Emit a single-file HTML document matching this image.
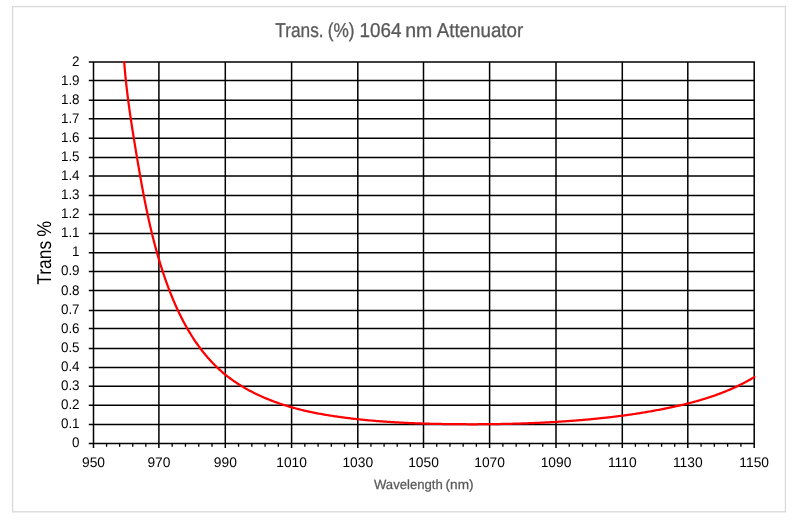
<!DOCTYPE html>
<html><head><meta charset="utf-8"><style>
html,body{margin:0;padding:0;background:#fff;}
body{width:796px;height:520px;overflow:hidden;}
svg{display:block;will-change:transform;}
text{font-family:"Liberation Sans",sans-serif;text-rendering:geometricPrecision;}
.yl{font-size:14px;text-anchor:end;fill:#000;}
.xl{font-size:13.8px;text-anchor:middle;fill:#000;}
.ti{font-size:20.0px;fill:#595959;stroke:#595959;stroke-width:0.3px;}
.xt{font-size:13.3px;fill:#595959;stroke:#595959;stroke-width:0.25px;}
.yt{font-size:20.0px;fill:#000;}
</style></head><body>
<svg width="796" height="520" viewBox="0 0 796 520">
<rect x="12.6" y="6.6" width="772.8" height="505.2" fill="none" stroke="#d9d9d9" stroke-width="1.3"/>
<path d="M88.8 62.00H754.85 M88.8 80.60H754.85 M88.8 100.15H754.85 M88.8 118.80H754.85 M88.8 138.15H754.85 M88.8 157.45H754.85 M88.8 176.00H754.85 M88.8 195.46H754.85 M88.8 214.54H754.85 M88.8 233.46H754.85 M88.8 252.80H754.85 M88.8 271.50H754.85 M88.8 290.60H754.85 M88.8 310.40H754.85 M88.8 328.60H754.85 M88.8 348.40H754.85 M88.8 367.50H754.85 M88.8 386.30H754.85 M88.8 405.30H754.85 M88.8 424.40H754.85 M88.8 443.40H754.85 M93.50 62.00V447.9 M158.90 62.00V447.9 M225.30 62.00V447.9 M291.60 62.00V447.9 M357.80 62.00V447.9 M423.50 62.00V447.9 M489.60 62.00V447.9 M556.00 62.00V447.9 M622.30 62.00V447.9 M687.80 62.00V447.9 M754.20 62.00V447.9" stroke="#000" stroke-width="1.5" fill="none"/>
<path d="M106.58 443.4V446.8 M119.66 443.4V446.8 M132.74 443.4V446.8 M145.82 443.4V446.8 M172.18 443.4V446.8 M185.46 443.4V446.8 M198.74 443.4V446.8 M212.02 443.4V446.8 M238.56 443.4V446.8 M251.82 443.4V446.8 M265.08 443.4V446.8 M278.34 443.4V446.8 M304.84 443.4V446.8 M318.08 443.4V446.8 M331.32 443.4V446.8 M344.56 443.4V446.8 M370.94 443.4V446.8 M384.08 443.4V446.8 M397.22 443.4V446.8 M410.36 443.4V446.8 M436.72 443.4V446.8 M449.94 443.4V446.8 M463.16 443.4V446.8 M476.38 443.4V446.8 M502.88 443.4V446.8 M516.16 443.4V446.8 M529.44 443.4V446.8 M542.72 443.4V446.8 M569.26 443.4V446.8 M582.52 443.4V446.8 M595.78 443.4V446.8 M609.04 443.4V446.8 M635.40 443.4V446.8 M648.50 443.4V446.8 M661.60 443.4V446.8 M674.70 443.4V446.8 M701.08 443.4V446.8 M714.36 443.4V446.8 M727.64 443.4V446.8 M740.92 443.4V446.8" stroke="#000" stroke-width="1.3" fill="none"/>
<clipPath id="c"><rect x="0" y="61" width="796" height="459"/></clipPath>
<path d="M123.52 52.02 123.59 53.22 123.67 54.42 123.74 55.61 123.82 56.81 123.90 58.01 123.99 59.21 124.07 60.40 124.16 61.60 124.25 62.80 124.35 63.99 124.44 65.19 124.54 66.38 124.64 67.58 124.74 68.78 124.85 69.97 124.96 71.17 125.06 72.36 125.18 73.56 125.29 74.75 125.41 75.95 125.52 77.14 125.65 78.33 125.77 79.53 125.89 80.72 126.02 81.91 126.15 83.11 126.28 84.30 126.41 85.49 126.54 86.69 126.68 87.88 126.82 89.07 126.96 90.26 127.10 91.45 127.24 92.64 127.39 93.84 127.54 95.03 127.68 96.22 127.83 97.41 127.99 98.60 128.14 99.79 128.29 100.98 128.45 102.17 128.61 103.36 128.77 104.55 128.93 105.74 129.09 106.93 129.25 108.11 129.42 109.30 129.59 110.49 129.75 111.68 129.92 112.87 130.09 114.05 130.27 115.24 130.44 116.43 130.61 117.62 130.79 118.80 130.96 119.99 131.14 121.18 131.32 122.36 131.50 123.55 131.68 124.74 131.86 125.92 132.05 127.11 132.23 128.30 132.42 129.48 132.60 130.67 132.79 131.85 132.98 133.04 133.16 134.22 133.35 135.41 133.54 136.59 133.73 137.78 133.92 138.96 134.12 140.15 134.31 141.33 134.50 142.51 134.70 143.70 134.89 144.88 135.09 146.07 135.28 147.25 135.48 148.43 135.68 149.62 135.87 150.80 136.07 151.99 136.27 153.17 136.47 154.35 136.67 155.54 136.87 156.72 137.07 157.90 137.27 159.09 137.47 160.27 137.67 161.45 137.87 162.64 138.07 163.82 138.27 165.00 138.48 166.18 138.68 167.37 138.88 168.55 139.09 169.73 139.29 170.91 139.50 172.10 139.71 173.28 139.91 174.46 140.12 175.64 140.33 176.82 140.54 178.01 140.75 179.19 140.96 180.37 141.17 181.55 141.39 182.73 141.60 183.91 141.82 185.09 142.03 186.27 142.25 187.45 142.47 188.63 142.69 189.81 142.91 190.99 143.13 192.17 143.35 193.35 143.58 194.53 143.80 195.71 144.03 196.88 144.26 198.06 144.49 199.24 144.72 200.42 144.95 201.60 145.19 202.77 145.42 203.95 145.66 205.13 145.90 206.30 146.14 207.48 146.38 208.65 146.62 209.83 146.87 211.00 147.12 212.18 147.36 213.35 147.62 214.52 147.87 215.70 148.12 216.87 148.38 218.04 148.64 219.21 148.90 220.39 149.16 221.56 149.42 222.73 149.69 223.90 149.96 225.07 150.23 226.24 150.50 227.41 150.77 228.57 151.05 229.74 151.33 230.91 151.61 232.08 151.89 233.24 152.18 234.41 152.46 235.57 152.75 236.74 153.05 237.90 153.34 239.06 153.64 240.23 153.94 241.39 154.24 242.55 154.54 243.71 154.85 244.87 155.16 246.03 155.47 247.19 155.79 248.35 156.10 249.50 156.42 250.66 156.75 251.82 157.07 252.97 157.40 254.13 157.73 255.28 158.06 256.43 158.40 257.58 158.74 258.74 159.08 259.89 159.42 261.03 159.77 262.18 160.12 263.33 160.48 264.48 160.83 265.62 161.19 266.77 161.55 267.91 161.92 269.06 162.29 270.20 162.66 271.34 163.03 272.48 163.41 273.62 163.79 274.76 164.18 275.89 164.56 277.03 164.95 278.16 165.35 279.30 165.75 280.43 166.15 281.56 166.55 282.69 166.96 283.82 167.37 284.95 167.78 286.07 168.20 287.20 168.62 288.32 169.05 289.44 169.48 290.56 169.91 291.68 170.35 292.80 170.79 293.91 171.24 295.03 171.69 296.14 172.14 297.25 172.60 298.36 173.06 299.47 173.53 300.58 174.00 301.68 174.47 302.78 174.95 303.88 175.43 304.98 175.92 306.08 176.42 307.17 176.91 308.26 177.42 309.35 177.92 310.44 178.43 311.52 178.95 312.61 179.47 313.69 180.00 314.77 180.53 315.84 181.07 316.92 181.61 317.99 182.15 319.06 182.70 320.12 183.26 321.18 183.82 322.24 184.39 323.30 184.97 324.36 185.54 325.41 186.13 326.46 186.72 327.50 187.31 328.54 187.91 329.58 188.52 330.62 189.13 331.65 189.75 332.68 190.38 333.70 191.01 334.72 191.64 335.74 192.28 336.75 192.93 337.76 193.59 338.77 194.25 339.77 194.92 340.77 195.59 341.76 196.27 342.75 196.96 343.74 197.65 344.72 198.35 345.69 199.05 346.66 199.76 347.63 200.48 348.59 201.21 349.54 201.94 350.49 202.68 351.44 203.43 352.38 204.18 353.32 204.94 354.24 205.70 355.17 206.48 356.09 207.26 357.00 208.04 357.90 208.84 358.80 209.64 359.70 210.45 360.58 211.26 361.47 212.08 362.34 212.91 363.21 213.75 364.07 214.59 364.92 215.44 365.77 216.30 366.61 217.16 367.44 218.03 368.27 218.91 369.09 219.80 369.90 220.69 370.70 221.59 371.49 222.49 372.28 223.41 373.06 224.33 373.83 225.25 374.59 226.19 375.34 227.13 376.09 228.08 376.83 229.03 377.55 229.99 378.27 230.95 378.99 231.93 379.69 232.90 380.39 233.89 381.07 234.88 381.75 235.87 382.42 236.87 383.09 237.88 383.74 238.89 384.39 239.90 385.03 240.92 385.66 241.95 386.29 242.98 386.90 244.01 387.51 245.05 388.12 246.09 388.71 247.14 389.30 248.19 389.87 249.24 390.45 250.30 391.01 251.37 391.57 252.43 392.12 253.50 392.66 254.58 393.20 255.65 393.73 256.73 394.25 257.82 394.76 258.90 395.27 260.00 395.77 261.09 396.27 262.18 396.75 263.28 397.23 264.39 397.71 265.49 398.18 266.60 398.64 267.71 399.09 268.82 399.54 269.94 399.98 271.06 400.42 272.18 400.85 273.30 401.27 274.42 401.69 275.55 402.10 276.68 402.51 277.81 402.91 278.95 403.30 280.08 403.69 281.22 404.07 282.36 404.45 283.50 404.82 284.64 405.19 285.79 405.54 286.93 405.90 288.08 406.25 289.23 406.59 290.38 406.93 291.54 407.26 292.69 407.58 293.85 407.91 295.01 408.22 296.17 408.53 297.33 408.84 298.49 409.14 299.65 409.43 300.81 409.72 301.98 410.01 303.15 410.29 304.31 410.57 305.48 410.84 306.65 411.10 307.82 411.37 309.00 411.62 310.17 411.88 311.34 412.13 312.52 412.37 313.69 412.61 314.87 412.85 316.05 413.08 317.23 413.31 318.40 413.53 319.58 413.75 320.76 413.97 321.95 414.18 323.13 414.39 324.31 414.60 325.49 414.80 326.68 415.00 327.86 415.19 329.04 415.39 330.23 415.57 331.41 415.76 332.60 415.94 333.79 416.12 334.97 416.30 336.16 416.47 337.35 416.65 338.54 416.81 339.73 416.98 340.91 417.14 342.10 417.30 343.29 417.46 344.48 417.62 345.67 417.77 346.86 417.93 348.05 418.07 349.24 418.22 350.44 418.37 351.63 418.51 352.82 418.65 354.01 418.79 355.20 418.92 356.40 419.06 357.59 419.19 358.78 419.32 359.98 419.45 361.17 419.57 362.36 419.69 363.56 419.81 364.75 419.93 365.94 420.05 367.14 420.17 368.33 420.28 369.53 420.39 370.72 420.50 371.92 420.60 373.11 420.71 374.31 420.81 375.51 420.91 376.70 421.01 377.90 421.11 379.09 421.20 380.29 421.30 381.49 421.39 382.68 421.48 383.88 421.57 385.08 421.65 386.27 421.74 387.47 421.82 388.67 421.90 389.87 421.98 391.06 422.06 392.26 422.13 393.46 422.21 394.66 422.28 395.85 422.35 397.05 422.42 398.25 422.49 399.45 422.55 400.65 422.62 401.85 422.68 403.04 422.74 404.24 422.80 405.44 422.86 406.64 422.92 407.84 422.97 409.04 423.02 410.24 423.08 411.43 423.13 412.63 423.18 413.83 423.23 415.03 423.27 416.23 423.32 417.43 423.36 418.63 423.41 419.83 423.45 421.03 423.49 422.23 423.53 423.43 423.56 424.63 423.60 425.83 423.64 427.03 423.67 428.22 423.70 429.42 423.74 430.62 423.77 431.82 423.80 433.02 423.82 434.22 423.85 435.42 423.88 436.62 423.90 437.82 423.93 439.02 423.95 440.22 423.97 441.42 423.99 442.62 424.02 443.82 424.03 445.02 424.05 446.22 424.07 447.42 424.09 448.62 424.10 449.82 424.12 451.02 424.13 452.22 424.15 453.42 424.16 454.62 424.17 455.82 424.18 457.02 424.19 458.22 424.20 459.42 424.21 460.62 424.22 461.82 424.22 463.02 424.23 464.22 424.24 465.42 424.24 466.62 424.25 467.82 424.25 469.02 424.25 470.22 424.25 471.42 424.25 472.62 424.25 473.82 424.25 475.02 424.25 476.22 424.25 477.42 424.25 478.62 424.24 479.82 424.24 481.02 424.23 482.22 424.22 483.42 424.22 484.62 424.21 485.82 424.20 487.02 424.19 488.22 424.18 489.42 424.16 490.62 424.15 491.82 424.14 493.02 424.12 494.22 424.11 495.42 424.09 496.62 424.07 497.82 424.05 499.02 424.03 500.22 424.01 501.42 423.99 502.62 423.97 503.82 423.95 505.02 423.92 506.22 423.90 507.42 423.87 508.62 423.84 509.82 423.81 511.02 423.78 512.22 423.75 513.42 423.72 514.62 423.69 515.81 423.66 517.01 423.62 518.21 423.59 519.41 423.55 520.61 423.51 521.81 423.47 523.01 423.43 524.21 423.39 525.41 423.35 526.61 423.31 527.81 423.26 529.01 423.22 530.21 423.17 531.41 423.12 532.60 423.08 533.80 423.03 535.00 422.97 536.20 422.92 537.40 422.87 538.60 422.81 539.80 422.76 541.00 422.70 542.19 422.65 543.39 422.59 544.59 422.53 545.79 422.46 546.99 422.40 548.19 422.34 549.39 422.27 550.58 422.21 551.78 422.14 552.98 422.07 554.18 422.00 555.38 421.93 556.57 421.86 557.77 421.79 558.97 421.71 560.17 421.63 561.36 421.56 562.56 421.48 563.76 421.40 564.96 421.32 566.15 421.24 567.35 421.15 568.55 421.07 569.74 420.98 570.94 420.89 572.14 420.80 573.33 420.71 574.53 420.62 575.73 420.53 576.92 420.44 578.12 420.34 579.32 420.24 580.51 420.14 581.71 420.04 582.90 419.94 584.10 419.84 585.29 419.73 586.49 419.63 587.68 419.52 588.88 419.41 590.07 419.30 591.27 419.19 592.46 419.08 593.66 418.96 594.85 418.84 596.05 418.73 597.24 418.61 598.43 418.48 599.63 418.36 600.82 418.24 602.01 418.11 603.21 417.98 604.40 417.85 605.59 417.72 606.79 417.58 607.98 417.45 609.17 417.31 610.36 417.17 611.55 417.03 612.75 416.89 613.94 416.75 615.13 416.60 616.32 416.45 617.51 416.30 618.70 416.15 619.89 416.00 621.08 415.84 622.27 415.69 623.46 415.53 624.65 415.36 625.84 415.20 627.03 415.04 628.21 414.87 629.40 414.70 630.59 414.53 631.78 414.36 632.96 414.18 634.15 414.00 635.34 413.83 636.52 413.64 637.71 413.46 638.90 413.28 640.08 413.09 641.27 412.90 642.45 412.71 643.63 412.51 644.82 412.32 646.00 412.12 647.19 411.92 648.37 411.72 649.55 411.51 650.73 411.30 651.91 411.09 653.09 410.88 654.28 410.67 655.46 410.45 656.64 410.23 657.82 410.01 658.99 409.79 660.17 409.56 661.35 409.34 662.53 409.11 663.71 408.87 664.88 408.64 666.06 408.40 667.24 408.16 668.41 407.92 669.59 407.68 670.76 407.43 671.93 407.18 673.11 406.93 674.28 406.67 675.45 406.41 676.62 406.15 677.79 405.89 678.96 405.62 680.13 405.35 681.30 405.08 682.47 404.80 683.64 404.52 684.80 404.24 685.97 403.95 687.13 403.66 688.29 403.37 689.46 403.07 690.62 402.77 691.78 402.47 692.94 402.16 694.10 401.85 695.26 401.53 696.41 401.21 697.57 400.88 698.72 400.55 699.87 400.22 701.03 399.88 702.18 399.54 703.32 399.19 704.47 398.84 705.62 398.49 706.76 398.13 707.91 397.76 709.05 397.39 710.19 397.02 711.33 396.64 712.46 396.25 713.60 395.86 714.73 395.47 715.86 395.07 716.99 394.66 718.12 394.25 719.24 393.83 720.37 393.41 721.49 392.99 722.61 392.55 723.72 392.11 724.84 391.67 725.95 391.22 727.06 390.76 728.17 390.30 729.27 389.84 730.38 389.36 731.48 388.88 732.57 388.40 733.67 387.91 734.76 387.41 735.85 386.90 736.94 386.39 738.02 385.88 739.10 385.35 740.18 384.82 741.25 384.29 742.32 383.75 743.39 383.20 744.45 382.64 745.51 382.08 746.57 381.51 747.62 380.94 748.67 380.35 749.72 379.77 750.76 379.17 751.80 378.57 752.83 377.96 753.86 377.35 754.43 377.00" stroke="#ff0000" stroke-width="2.25" fill="none" stroke-linejoin="round" stroke-linecap="round" clip-path="url(#c)"/>
<text transform="translate(79.6 447.10) scale(0.96 1)" class="yl">0</text>
<text transform="translate(79.6 428.03) scale(0.96 1)" class="yl">0.1</text>
<text transform="translate(79.6 408.96) scale(0.96 1)" class="yl">0.2</text>
<text transform="translate(79.6 389.89) scale(0.96 1)" class="yl">0.3</text>
<text transform="translate(79.6 370.82) scale(0.96 1)" class="yl">0.4</text>
<text transform="translate(79.6 351.75) scale(0.96 1)" class="yl">0.5</text>
<text transform="translate(79.6 332.68) scale(0.96 1)" class="yl">0.6</text>
<text transform="translate(79.6 313.61) scale(0.96 1)" class="yl">0.7</text>
<text transform="translate(79.6 294.54) scale(0.96 1)" class="yl">0.8</text>
<text transform="translate(79.6 275.47) scale(0.96 1)" class="yl">0.9</text>
<text transform="translate(79.6 256.40) scale(0.96 1)" class="yl">1</text>
<text transform="translate(79.6 237.33) scale(0.96 1)" class="yl">1.1</text>
<text transform="translate(79.6 218.26) scale(0.96 1)" class="yl">1.2</text>
<text transform="translate(79.6 199.19) scale(0.96 1)" class="yl">1.3</text>
<text transform="translate(79.6 180.12) scale(0.96 1)" class="yl">1.4</text>
<text transform="translate(79.6 161.05) scale(0.96 1)" class="yl">1.5</text>
<text transform="translate(79.6 141.98) scale(0.96 1)" class="yl">1.6</text>
<text transform="translate(79.6 122.91) scale(0.96 1)" class="yl">1.7</text>
<text transform="translate(79.6 103.84) scale(0.96 1)" class="yl">1.8</text>
<text transform="translate(79.6 84.77) scale(0.96 1)" class="yl">1.9</text>
<text transform="translate(79.6 65.70) scale(0.96 1)" class="yl">2</text>
<text x="93.50" y="466.8" class="xl">950</text>
<text x="158.90" y="466.8" class="xl">970</text>
<text x="225.30" y="466.8" class="xl">990</text>
<text x="291.60" y="466.8" class="xl">1010</text>
<text x="357.80" y="466.8" class="xl">1030</text>
<text x="423.50" y="466.8" class="xl">1050</text>
<text x="489.60" y="466.8" class="xl">1070</text>
<text x="556.00" y="466.8" class="xl">1090</text>
<text x="622.30" y="466.8" class="xl">1110</text>
<text x="687.80" y="466.8" class="xl">1130</text>
<text x="754.20" y="466.8" class="xl">1150</text>
<text x="275.32" y="36.90" class="ti" textLength="48.34" lengthAdjust="spacingAndGlyphs">Trans.</text><text x="327.73" y="36.90" class="ti" textLength="26.84" lengthAdjust="spacingAndGlyphs">(%)</text><text x="359.57" y="36.90" class="ti" textLength="41.89" lengthAdjust="spacingAndGlyphs">1064</text><text x="405.21" y="36.90" class="ti" textLength="27.08" lengthAdjust="spacingAndGlyphs">nm</text><text x="436.66" y="36.90" class="ti" textLength="86.55" lengthAdjust="spacingAndGlyphs">Attenuator</text>
<text x="373.94" y="488.80" class="xt" textLength="68.90" lengthAdjust="spacingAndGlyphs">Wavelength</text><text x="445.56" y="488.80" class="xt" textLength="27.99" lengthAdjust="spacingAndGlyphs">(nm)</text>
<g transform="translate(50.6 284.3) rotate(-90)"><text x="-0.38" y="0.00" class="yt" textLength="43.80" lengthAdjust="spacingAndGlyphs">Trans</text><text x="47.56" y="0.00" class="yt" textLength="15.87" lengthAdjust="spacingAndGlyphs">%</text></g>
</svg>
</body></html>
